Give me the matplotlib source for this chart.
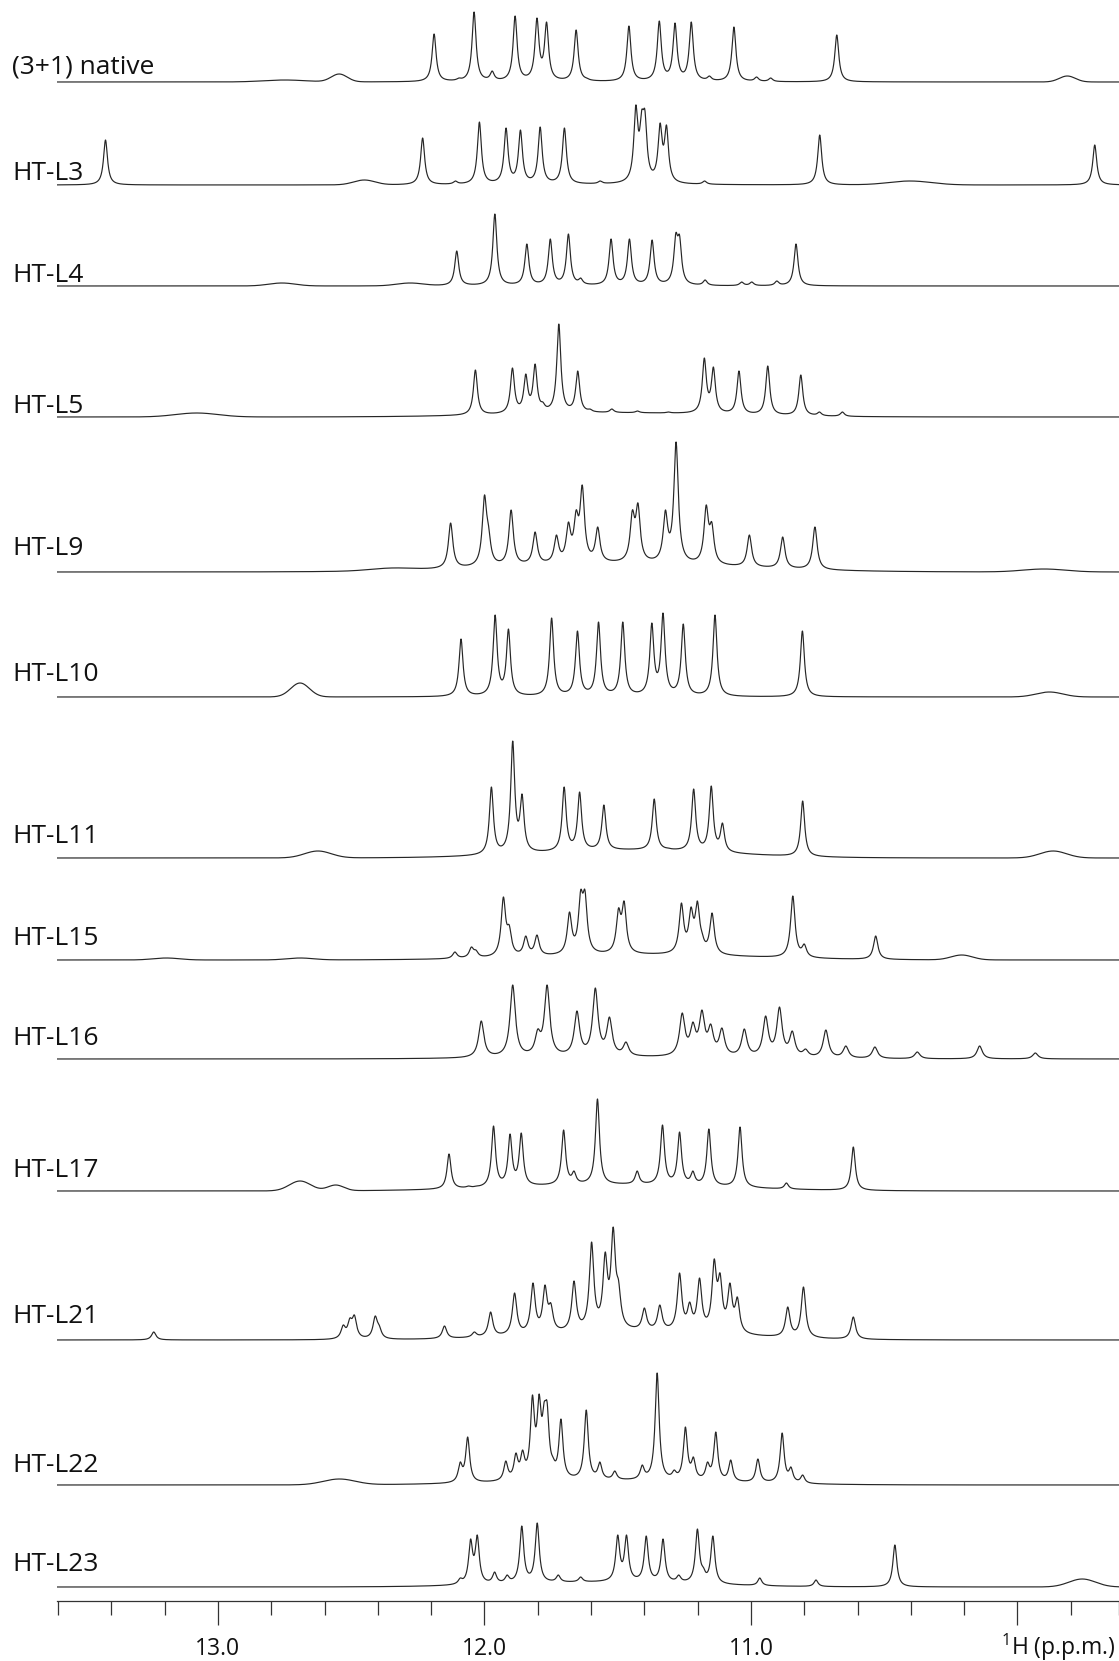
import numpy as np
import matplotlib
matplotlib.use('Agg')
import matplotlib.pyplot as plt

plt.rcParams['font.family'] = ['Open Sans', 'DejaVu Sans']
plt.rcParams['mathtext.fontset'] = 'custom'
plt.rcParams['mathtext.rm'] = 'Open Sans'

# ---------------- data (ppm, apparent peak height in px) ----------------
labels = ['(3+1) native', 'HT-L3', 'HT-L4', 'HT-L5', 'HT-L9', 'HT-L10', 'HT-L11',
          'HT-L15', 'HT-L16', 'HT-L17', 'HT-L21', 'HT-L22', 'HT-L23']

native_peaks = [(12.189, 48), (12.096, 4), (12.039, 70), (11.971, 11), (11.885, 66), (11.803, 64),
                (11.767, 60), (11.683, 5), (11.656, 52), (11.616, 4), (11.458, 56), (11.344, 61),
                (11.285, 59), (11.224, 60), (11.156, 6), (11.064, 55), (10.979, 5), (10.926, 4),
                (10.678, 47)]
native_humps = [(12.545, 8, 0.03), (12.75, 2, 0.08), (9.813, 6, 0.03), (11.45, 3, 0.35)]

l3_peaks = [(13.422, 45), (12.232, 47), (12.109, 4), (12.019, 63), (11.919, 57), (11.865, 55),
            (11.791, 58), (11.700, 57), (11.566, 4), (11.432, 80), (11.410, 75), (11.398, 75),
            (11.341, 62), (11.317, 60), (11.174, 4), (10.742, 50), (9.710, 40)]
l3_humps = [(12.451, 5, 0.04), (10.403, 4, 0.08), (11.5, 3, 0.3)]

l4_peaks = [(12.104, 35), (11.961, 72), (11.841, 42), (11.753, 47), (11.685, 52), (11.639, 8),
            (11.525, 47), (11.456, 47), (11.371, 46), (11.282, 53), (11.268, 51), (11.172, 6),
            (11.035, 4), (10.997, 4), (10.903, 5), (10.831, 42)]
l4_humps = [(12.76, 3, 0.05), (12.28, 3, 0.05)]

l5_peaks = [(12.034, 47), (11.941, 5), (11.895, 49), (11.845, 43), (11.810, 53), (11.781, 15),
            (11.721, 93), (11.679, 10), (11.650, 46), (11.604, 8), (11.522, 8), (11.426, 6),
            (11.310, 5), (11.175, 59), (11.141, 50), (11.045, 46), (10.937, 51), (10.813, 42),
            (10.743, 5), (10.657, 5)]
l5_humps = [(13.08, 4, 0.08), (11.5, 5, 0.4)]

l9_peaks = [(12.127, 49), (12.000, 77), (11.985, 47), (11.900, 62), (11.810, 40), (11.730, 37),
            (11.685, 50), (11.656, 62), (11.633, 87), (11.575, 45), (11.445, 62), (11.424, 69),
            (11.321, 62), (11.281, 130), (11.168, 67), (11.147, 50), (11.006, 37), (10.881, 35),
            (10.760, 45)]
l9_humps = [(11.5, 12, 0.45), (12.35, 4, 0.08), (9.9, 3, 0.08)]

l10_peaks = [(12.088, 58), (11.960, 82), (11.910, 68), (11.748, 79), (11.651, 66), (11.572, 75),
             (11.481, 75), (11.372, 74), (11.330, 84), (11.254, 73), (11.135, 82), (10.807, 66)]
l10_humps = [(12.692, 14, 0.035), (9.88, 5, 0.05), (11.5, 4, 0.35)]

l11_peaks = [(11.974, 71), (11.894, 117), (11.859, 64), (11.701, 71), (11.643, 66), (11.552, 53),
             (11.363, 59), (11.310, 10), (11.260, 10), (11.215, 69), (11.149, 72), (11.107, 35),
             (10.806, 57)]
l11_humps = [(11.45, 9, 0.35), (12.625, 7, 0.05), (9.866, 7, 0.05)]

l15_peaks = [(12.111, 8), (12.049, 13), (12.032, 10), (11.929, 63), (11.907, 35), (11.845, 24),
             (11.803, 25), (11.760, 5), (11.681, 48), (11.639, 70), (11.623, 70), (11.497, 52),
             (11.476, 59), (11.261, 57), (11.225, 53), (11.201, 59), (11.184, 28), (11.146, 47),
             (10.843, 64), (10.800, 16), (10.532, 24)]
l15_humps = [(11.4, 7, 0.4), (11.355, 5, 0.04), (10.209, 5, 0.04), (13.194, 2, 0.05), (12.692, 2, 0.05)]

l16_peaks = [(12.012, 38), (11.894, 74), (11.800, 30), (11.765, 74), (11.653, 48), (11.584, 71),
             (11.531, 42), (11.469, 17), (11.258, 46), (11.218, 37), (11.184, 49), (11.151, 35),
             (11.109, 31), (11.025, 30), (10.945, 43), (10.893, 52), (10.845, 28), (10.795, 10),
             (10.719, 29), (10.644, 13), (10.535, 12), (10.376, 7), (10.142, 13), (9.933, 6)]
l16_humps = [(11.5, 10, 0.4)]

l17_peaks = [(12.133, 37), (12.060, 5), (12.030, 5), (11.966, 65), (11.904, 57), (11.862, 58),
             (11.703, 61), (11.664, 20), (11.576, 92), (11.427, 20), (11.332, 66), (11.268, 59),
             (11.218, 20), (11.158, 62), (11.041, 64), (10.867, 8), (10.616, 44)]
l17_humps = [(11.5, 8, 0.4), (12.692, 10, 0.04), (12.558, 6, 0.03)]

l21_peaks = [(13.241, 8), (12.530, 15), (12.505, 22), (12.488, 25), (12.410, 24), (12.395, 15),
             (12.150, 14), (12.038, 8), (11.977, 28), (11.887, 47), (11.818, 57), (11.773, 55),
             (11.751, 37), (11.664, 59), (11.598, 98), (11.547, 88), (11.517, 113), (11.497, 60),
             (11.400, 32), (11.342, 35), (11.268, 67), (11.230, 38), (11.193, 62), (11.138, 81),
             (11.116, 67), (11.079, 57), (11.051, 43), (10.862, 33), (10.803, 53), (10.616, 23)]
l21_humps = [(11.45, 14, 0.35)]

l22_peaks = [(12.091, 23), (12.063, 48), (11.920, 24), (11.882, 32), (11.857, 35), (11.820, 90),
             (11.795, 91), (11.776, 83), (11.765, 83), (11.743, 28), (11.713, 66), (11.618, 75),
             (11.567, 23), (11.511, 14), (11.408, 20), (11.352, 112), (11.288, 15), (11.246, 58),
             (11.216, 28), (11.163, 23), (11.132, 53), (11.076, 25), (10.974, 26), (10.883, 52),
             (10.850, 18), (10.806, 10)]
l22_humps = [(11.5, 9, 0.4), (12.545, 6, 0.06)]

l23_peaks = [(12.091, 9), (12.052, 48), (12.027, 52), (11.962, 15), (11.915, 12), (11.860, 61),
             (11.802, 64), (11.723, 12), (11.639, 10), (11.500, 52), (11.467, 52), (11.393, 51),
             (11.330, 48), (11.271, 12), (11.201, 58), (11.179, 20), (11.143, 51), (10.967, 9),
             (10.756, 7), (10.460, 42)]
l23_humps = [(11.55, 7, 0.35), (9.757, 8, 0.05)]

all_peaks = [native_peaks, l3_peaks, l4_peaks, l5_peaks, l9_peaks, l10_peaks, l11_peaks,
             l15_peaks, l16_peaks, l17_peaks, l21_peaks, l22_peaks, l23_peaks]
all_humps = [native_humps, l3_humps, l4_humps, l5_humps, l9_humps, l10_humps, l11_humps,
             l15_humps, l16_humps, l17_humps, l21_humps, l22_humps, l23_humps]

major_ticks = [13.0, 12.0, 11.0, 10.0]
major_labels = ['13.0', '12.0', '11.0', '']
minor_ticks = [13.6, 13.4, 13.2, 12.8, 12.6, 12.4, 12.2, 11.8, 11.6, 11.4, 11.2,
               10.8, 10.6, 10.4, 10.2, 9.8, 9.62]

# ---------------- layout (pixel rows, styles) ----------------
W, H = 1119, 1661
baselines = [82, 185, 286, 417, 572, 697, 858, 960, 1059, 1191, 1340, 1485, 1587]
label_rows = [73, 180, 282, 413, 555, 681, 843, 945, 1045, 1177, 1323, 1472, 1571]
linewidths = [0.009, 0.009, 0.009, 0.009, 0.010, 0.009, 0.009, 0.010, 0.012, 0.009, 0.010, 0.009, 0.009]
axis_row = 1601
XL, XR = 13.604, 9.619


def lineshape(x, c, w, gauss):
    if gauss:
        return np.exp(-0.5 * ((x - c) / w) ** 2)
    return w ** 2 / ((x - c) ** 2 + w ** 2)


def build(grid, peaks, humps, gamma):
    comps = [(p[0], gamma, False) for p in peaks] + [(h[0], h[2], True) for h in humps]
    target = np.array([p[1] for p in peaks] + [h[1] for h in humps], float)
    centers = np.array([c[0] for c in comps])
    n = len(comps)
    A = np.zeros((n, n))
    for j, (c, w, g) in enumerate(comps):
        A[:, j] = lineshape(centers, c, w, g)
    a = target.copy()
    for _ in range(400):
        for i in range(n):
            r = target[i] - A[i] @ a + A[i, i] * a[i]
            a[i] = max(0.0, r / A[i, i])
    y = np.zeros_like(grid)
    for j, (c, w, g) in enumerate(comps):
        y += a[j] * lineshape(grid, c, w, g)
    return y


fig = plt.figure(figsize=(W / 100, H / 100), dpi=100)
ax = fig.add_axes([57 / W, 0, (W - 57) / W, 1])
ax.set_xlim(XL, XR)
ax.set_ylim(H, 0)
ax.patch.set_alpha(0)

grid = np.linspace(XL, XR, 6000)
for peaks, humps, b, g in zip(all_peaks, all_humps, baselines, linewidths):
    y = build(grid, peaks, humps, g)
    ax.plot(grid, b - y, color='#262626', lw=0.85, solid_joinstyle='round')

for s in ['left', 'right', 'top']:
    ax.spines[s].set_visible(False)
ax.spines['bottom'].set_position(('data', axis_row))
ax.spines['bottom'].set_color('#333333')
ax.spines['bottom'].set_linewidth(0.9)
ax.set_yticks([])
ax.set_xticks(major_ticks)
ax.set_xticks(minor_ticks, minor=True)
ax.tick_params(axis='x', which='major', length=17, width=0.9, direction='out',
               colors='#333333', labelbottom=False)
ax.tick_params(axis='x', which='minor', length=10, width=0.9, direction='out',
               colors='#333333', labelbottom=False)

for v, t in zip(major_ticks, major_labels):
    if t:
        ax.text(v, 1655, t, ha='center', va='baseline', fontsize=16.5, color='#111111')

fig.text(1116 / W, 1 - 1655 / H, r'$\mathregular{^1}$H (p.p.m.)', ha='right', va='baseline',
         fontsize=16.5, color='#111111')

for name, r in zip(labels, label_rows):
    fig.text(12 / W, 1 - r / H, name, ha='left', va='baseline', fontsize=19, color='#111111')

fig.savefig('out.png', dpi=100)
